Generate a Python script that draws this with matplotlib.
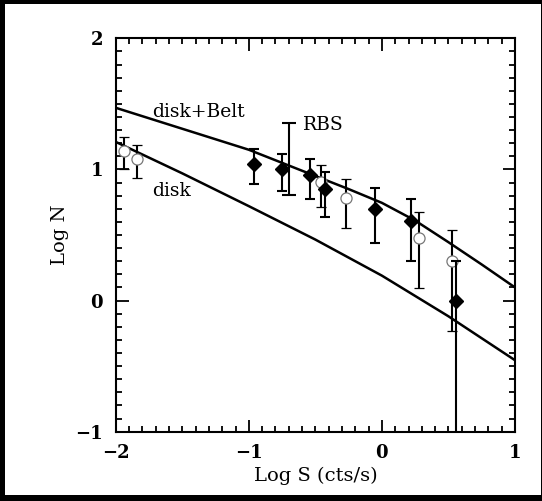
import numpy as np
import matplotlib
matplotlib.use('Agg')
import matplotlib.pyplot as plt
from matplotlib.patches import Rectangle
from matplotlib.ticker import MultipleLocator

# model curves
belt_x = [-2.0, -1.5, -1.0, -0.5, -0.25, 0.0, 0.25, 0.5, 0.75, 1.0]
belt_y = [1.47, 1.31, 1.15, 0.95, 0.85, 0.745, 0.61, 0.445, 0.275, 0.10]
disk_x = [-2.0, -1.5, -1.0, -0.5, 0.0, 0.5, 1.0]
disk_y = [1.21, 0.97, 0.72, 0.465, 0.19, -0.12, -0.455]

# open circles
circ_x = [-1.935, -1.837, -0.459, -0.269, 0.280, 0.526]
circ_y = [1.142, 1.081, 0.906, 0.779, 0.478, 0.303]
circ_lo = [1.0, 0.931, 0.715, 0.55, 0.099, -0.234]
circ_hi = [1.244, 1.186, 1.036, 0.926, 0.674, 0.537]

# filled diamonds
dia_x = [-0.961, -0.749, -0.541, -0.425, -0.054, 0.220, 0.560]
dia_y = [1.038, 1.0, 0.954, 0.847, 0.70, 0.603, 0.0]
dia_lo = [0.886, 0.835, 0.776, 0.639, 0.44, 0.30, -1.5]
dia_hi = [1.155, 1.12, 1.076, 0.982, 0.86, 0.776, 0.30]

# RBS bar
rbs_x = [-0.70]
rbs_lo = [0.802]
rbs_hi = [1.356]

plt.rcParams['font.family'] = 'DejaVu Serif'
plt.rcParams['font.size'] = 13

fig = plt.figure(figsize=(5.42, 5.01), dpi=100, facecolor='black')
fig.patches.append(Rectangle((5/542, 6/501), 536/542, 491/501,
                             transform=fig.transFigure, facecolor='white',
                             edgecolor='none', zorder=-10))
ax = fig.add_axes([0.2135, 0.1383, 0.7367, 0.7853])

ax.plot(belt_x, belt_y, color='black', lw=1.8)
ax.plot(disk_x, disk_y, color='black', lw=1.8)

def yerr(y, lo, hi):
    y = np.array(y); return [y - np.array(lo), np.array(hi) - y]

ax.errorbar(circ_x, circ_y, yerr=yerr(circ_y, circ_lo, circ_hi), fmt='o',
            mfc='white', mec='#777777', mew=0.9, ms=8, ecolor='black',
            elinewidth=1.5, capsize=3.5, capthick=1.5, zorder=3)
ax.errorbar(dia_x, dia_y, yerr=yerr(dia_y, dia_lo, dia_hi), fmt='D',
            color='black', ms=7, elinewidth=1.5, capsize=3.5, capthick=1.5,
            zorder=4)
ax.errorbar(rbs_x, [1.0], yerr=yerr([1.0], rbs_lo, rbs_hi), fmt='none',
            ecolor='black', elinewidth=1.5, capsize=5, capthick=1.5)

ax.text(-1.73, 1.44, 'disk+Belt', va='center', ha='left', fontsize=13.5)
ax.text(-1.73, 0.837, 'disk', va='center', ha='left', fontsize=13.5)
ax.text(-0.59, 1.338, 'RBS', va='center', ha='left', fontsize=13.5)

ax.set_xlim(-2, 1)
ax.set_ylim(-1, 2)
ax.xaxis.set_major_locator(MultipleLocator(1))
ax.yaxis.set_major_locator(MultipleLocator(1))
ax.xaxis.set_minor_locator(MultipleLocator(0.1))
ax.yaxis.set_minor_locator(MultipleLocator(0.1))
ax.tick_params(which='both', direction='in', top=True, right=True, width=1.3)
ax.tick_params(which='major', length=9, pad=9)
ax.tick_params(which='minor', length=4.5)
for lab in ax.get_xticklabels() + ax.get_yticklabels():
    lab.set_fontweight('bold')
for s in ax.spines.values():
    s.set_linewidth(1.5)

ax.set_xlabel('Log S (cts/s)', labelpad=3, fontsize=14)
ax.set_ylabel('Log N', labelpad=5, fontsize=14)

fig.savefig('out.png', dpi=100, facecolor='black')
